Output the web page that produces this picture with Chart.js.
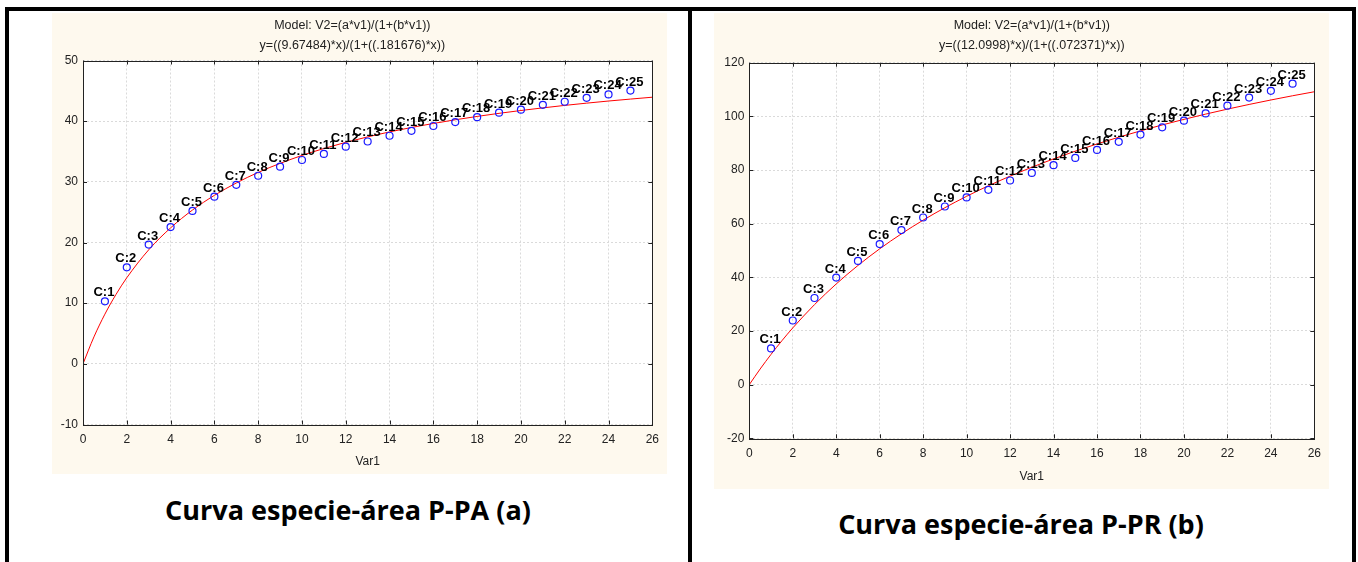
<!DOCTYPE html>
<html>
<head>
<meta charset="utf-8">
<script src="https://cdn.jsdelivr.net/npm/chart.js@4.4.0/dist/chart.umd.min.js"></script>
<style>
  body { margin: 0; background: #fff; width: 1358px; height: 562px; overflow: hidden; position: relative; }
  .bar { position: absolute; background: #000; }
  .panel { position: absolute; background: #fef9ee; }
  canvas { position: absolute; }
  .caption { position: absolute; font-family: "Open Sans", sans-serif; font-weight: 700; font-size: 27px; line-height: 27px; color: #000; white-space: nowrap; transform: translateX(-50%); }
</style>
</head>
<body>
<div class="bar" style="left:5px;top:7px;width:1351px;height:4px"></div>
<div class="bar" style="left:5px;top:7px;width:4px;height:555px"></div>
<div class="bar" style="left:688px;top:7px;width:4px;height:555px"></div>
<div class="bar" style="left:1352px;top:7px;width:4px;height:555px"></div>

<div class="panel" style="left:52px;top:13px;width:615px;height:461px"></div>
<div class="panel" style="left:714px;top:13px;width:615px;height:476px"></div>

<canvas id="chartPA" width="615" height="461" style="left:52px;top:13px"></canvas>
<canvas id="chartPR" width="615" height="476" style="left:714px;top:13px"></canvas>

<div class="caption" style="left:348px;top:496px">Curva especie-área P-PA (a)</div>
<div class="caption" style="left:1021px;top:510px">Curva especie-área P-PR (b)</div>

<script>
// sampled areas (Var1) and observed species counts
const areas = [1, 2, 3, 4, 5, 6, 7, 8, 9, 10, 11, 12, 13, 14, 15, 16, 17, 18, 19, 20, 21, 22, 23, 24, 25];
const speciesPA = [10.3, 15.9, 19.65, 22.55, 25.2, 27.55, 29.5, 31.0, 32.5, 33.6, 34.6, 35.8, 36.65, 37.6, 38.4, 39.2, 39.85, 40.65, 41.4, 41.9, 42.7, 43.2, 43.85, 44.4, 45.05];
const speciesPR = [13.5, 23.9, 32.3, 39.9, 46.1, 52.4, 57.6, 62.3, 66.4, 69.8, 72.6, 76.1, 78.9, 81.8, 84.5, 87.5, 90.5, 93.2, 95.9, 98.4, 101.1, 104.0, 107.0, 109.5, 112.2];
const pointNames = areas.map(a => "C:" + a);

// fitted curve
const curveX = [0, 0.5, 1, 1.5, 2, 3, 4, 5, 6, 7, 8, 9, 10, 11, 12, 13, 14, 15, 16, 17, 18, 19, 20, 21, 22, 23, 24, 25, 26];
const fitPA = [0, 4.44, 8.19, 11.40, 14.19, 18.79, 22.41, 25.35, 27.77, 29.81, 31.55, 33.04, 34.35, 35.49, 36.51, 37.41, 38.23, 38.96, 39.62, 40.23, 40.78, 41.29, 41.76, 42.19, 42.60, 42.97, 43.32, 43.64, 43.95];
const fitPR = [0, 5.84, 11.28, 16.37, 21.14, 29.82, 37.53, 44.42, 50.62, 56.22, 61.31, 65.95, 70.20, 74.11, 77.71, 81.05, 84.14, 87.03, 89.71, 92.23, 94.58, 96.80, 98.88, 100.84, 102.69, 104.44, 106.10, 107.68, 109.17];

const titlePA = ["Model: V2=(a*v1)/(1+(b*v1))", "y=((9.67484)*x)/(1+((.181676)*x))"];
const titlePR = ["Model: V2=(a*v1)/(1+(b*v1))", "y=((12.0998)*x)/(1+((.072371)*x))"];

const fontFamily = "'Liberation Sans', Arial, sans-serif";

// white plot area on the cream panel
const plotBg = {
  id: "plotBg",
  beforeDraw(chart) {
    const a = chart.chartArea;
    chart.ctx.save();
    chart.ctx.fillStyle = "#fff";
    chart.ctx.fillRect(a.left, a.top, a.right - a.left, a.bottom - a.top);
    chart.ctx.restore();
  }
};

// frame round the plot with short ticks pointing inwards
const framePlugin = {
  id: "frame",
  afterDraw(chart) {
    const ctx = chart.ctx;
    const a = chart.chartArea;
    const sx = chart.scales.x, sy = chart.scales.y;
    ctx.save();
    ctx.strokeStyle = "#222";
    ctx.lineWidth = 1;
    ctx.beginPath();
    sx.ticks.forEach(t => {
      const px = Math.round(sx.getPixelForValue(t.value)) + 0.5;
      ctx.moveTo(px, a.bottom); ctx.lineTo(px, a.bottom - 4);
      ctx.moveTo(px, a.top); ctx.lineTo(px, a.top + 4);
    });
    sy.ticks.forEach(t => {
      const py = Math.round(sy.getPixelForValue(t.value)) + 0.5;
      ctx.moveTo(a.left, py); ctx.lineTo(a.left + 4, py);
      ctx.moveTo(a.right, py); ctx.lineTo(a.right - 4, py);
    });
    ctx.stroke();
    ctx.strokeRect(Math.round(a.left) + 0.5, Math.round(a.top) + 0.5, Math.round(a.right - a.left), Math.round(a.bottom - a.top));
    ctx.restore();
  }
};

// "C:n" names above each observed point
const namePlugin = {
  id: "pointNames",
  afterDatasetsDraw(chart) {
    const ctx = chart.ctx;
    const meta = chart.getDatasetMeta(1);
    ctx.save();
    ctx.font = "bold 13px " + fontFamily;
    ctx.fillStyle = "#000";
    ctx.textAlign = "center";
    ctx.textBaseline = "alphabetic";
    meta.data.forEach((pt, i) => {
      ctx.fillText(pointNames[i], pt.x - 1, pt.y - 5);
    });
    ctx.restore();
  }
};

function makeChart(id, fit, observed, title, yMin, yMax, yStep, pad) {
  new Chart(document.getElementById(id), {
    type: "scatter",
    data: {
      datasets: [
        {
          data: curveX.map((x, i) => ({ x: x, y: fit[i] })),
          showLine: true,
          borderColor: "#ff0000",
          borderWidth: 1,
          pointRadius: 0,
          cubicInterpolationMode: "monotone",
          order: 2
        },
        {
          data: areas.map((x, i) => ({ x: x, y: observed[i] })),
          pointRadius: 3.5,
          pointBorderWidth: 1.2,
          pointBorderColor: "#1a1aff",
          pointBackgroundColor: "rgba(0,0,0,0)",
          order: 1
        }
      ]
    },
    options: {
      responsive: false,
      animation: false,
      layout: { padding: { left: 0, right: pad.right, top: 0, bottom: 0 } },
      plugins: {
        legend: { display: false },
        tooltip: { enabled: false },
        title: {
          display: true,
          fullSize: pad.titleFull,
          text: title,
          color: "#222",
          font: { family: fontFamily, size: 12.5, weight: "normal", lineHeight: 1.55 },
          padding: { top: 3, bottom: pad.titleBottom }
        }
      },
      scales: {
        x: {
          type: "linear",
          min: 0, max: 26,
          ticks: { stepSize: 2, color: "#222", padding: 8, font: { family: fontFamily, size: 12 } },
          grid: { color: "#dadada", drawTicks: false },
          border: { display: false, dash: [2, 2] },
          title: { display: true, text: "Var1", color: "#222", font: { family: fontFamily, size: 12 }, padding: { top: 0, bottom: 5 } },
          afterFit: s => { s.height = pad.xHeight; }
        },
        y: {
          min: yMin, max: yMax,
          ticks: { stepSize: yStep, color: "#222", padding: 5, font: { family: fontFamily, size: 12 } },
          grid: { color: "#dadada", drawTicks: false },
          border: { display: false, dash: [2, 2] },
          afterFit: s => { s.width = pad.yWidth; }
        }
      }
    },
    plugins: [plotBg, framePlugin, namePlugin]
  });
}

makeChart("chartPA", fitPA, speciesPA, titlePA, -10, 50, 10, { right: 14.3, titleFull: true, titleBottom: 5.75, xHeight: 49.5, yWidth: 31 });
makeChart("chartPR", fitPR, speciesPR, titlePR, -20, 120, 20, { right: 13.7, titleFull: false, titleBottom: 7.95, xHeight: 50.7, yWidth: 35.3 });
</script>
</body>
</html>
